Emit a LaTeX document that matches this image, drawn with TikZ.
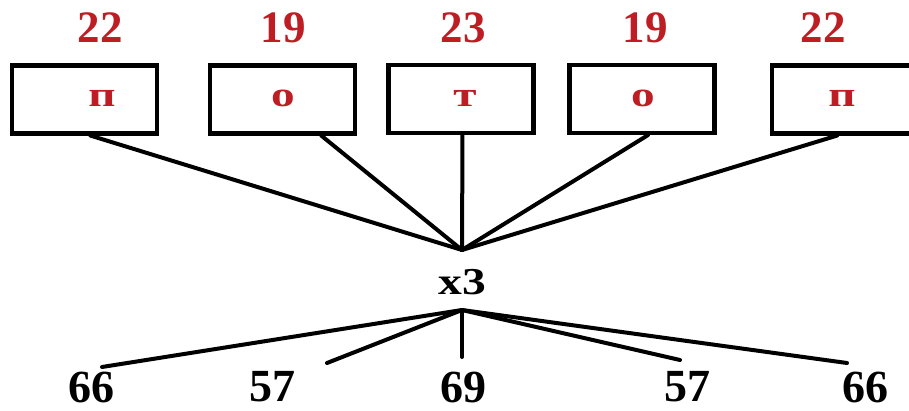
\documentclass[tikz,border=0pt]{standalone}
\usepackage{fontspec}
\setmainfont{Liberation Serif}
\usetikzlibrary{calc}
\definecolor{numred}{RGB}{190,30,35}
\newcommand{\widetext}[2]{\scalebox{#1}[1]{#2}}
\tikzset{
  lbox/.style={draw=black, line width=4.2pt, rectangle, minimum width=145pt, minimum height=68pt, inner sep=0pt},
  topnum/.style={text=numred, font=\fontsize{45}{45}\selectfont\bfseries, inner sep=0pt},
  letter/.style={text=numred, font=\fontsize{35}{35}\selectfont\bfseries, inner sep=0pt},
  botnum/.style={text=black, font=\fontsize{46}{46}\selectfont\bfseries, inner sep=0pt},
  mult/.style={text=black, font=\fontsize{38}{38}\selectfont\bfseries, inner sep=0pt},
  link/.style={draw=black, line width=4pt, line cap=round}
}
\begin{document}
\begin{tikzpicture}[x=1pt,y=-1pt]
\useasboundingbox (0,0) rectangle (909,411);
\clip (0,0) rectangle (909,411);
\fill[white] (0,0) rectangle (909,411);
% boxes
\node[lbox] (b1) at (84.5,99.5) {};
\node[lbox] (b2) at (282.5,99.5) {};
\node[lbox] (b3) at (461,99) {};
\node[lbox] (b4) at (642,99) {};
\node[lbox] (b5) at (844.5,99.5) {};
% top numbers
\node[topnum] (n1) at (100,28) {22};
\node[topnum] (n2) at (283,28) {19};
\node[topnum] (n3) at (463,28) {23};
\node[topnum] (n4) at (645,28) {19};
\node[topnum] (n5) at (823,28) {22};
% letters
\node[letter] (l1) at (102,98) {\widetext{1.35}{п}};
\node[letter] (l2) at (283,98) {\widetext{1.35}{о}};
\node[letter] (l3) at (465,98) {\widetext{1.35}{т}};
\node[letter] (l4) at (643,98) {\widetext{1.35}{о}};
\node[letter] (l5) at (842,98) {\widetext{1.35}{п}};
% hub
\coordinate (hubT) at (462,250);
\node[mult] (x3) at (462,282) {\widetext{1.25}{x3}};
\coordinate (hubB) at (462,310);
% bottom numbers
\node[botnum] (m1) at (91,387) {66};
\node[botnum] (m2) at (272,387) {57};
\node[botnum] (m3) at (463,387) {69};
\node[botnum] (m4) at (687,387) {57};
\node[botnum] (m5) at (865,387) {66};
% free ends of the lower connectors
\coordinate (e1) at (102,367);
\coordinate (e2) at (327,363);
\coordinate (e3) at (462,357);
\coordinate (e4) at (680,360);
\coordinate (e5) at (847,363);
% upper connectors
\draw[link] ($(b1.south west)!0.54!(b1.south east)$) -- (hubT);
\draw[link] ($(b2.south west)!0.76!(b2.south east)$) -- (hubT);
\draw[link] ($(b3.south west)!0.51!(b3.south east)$) -- (hubT);
\draw[link] ($(b4.south west)!0.54!(b4.south east)$) -- (hubT);
\draw[link] ($(b5.south west)!0.45!(b5.south east)$) -- (hubT);
% lower connectors
\draw[link] (hubB) -- (e1);
\draw[link] (hubB) -- (e2);
\draw[link] (hubB) -- (e3);
\draw[link] (hubB) -- (e4);
\draw[link] (hubB) -- (e5);
\end{tikzpicture}
\end{document}
